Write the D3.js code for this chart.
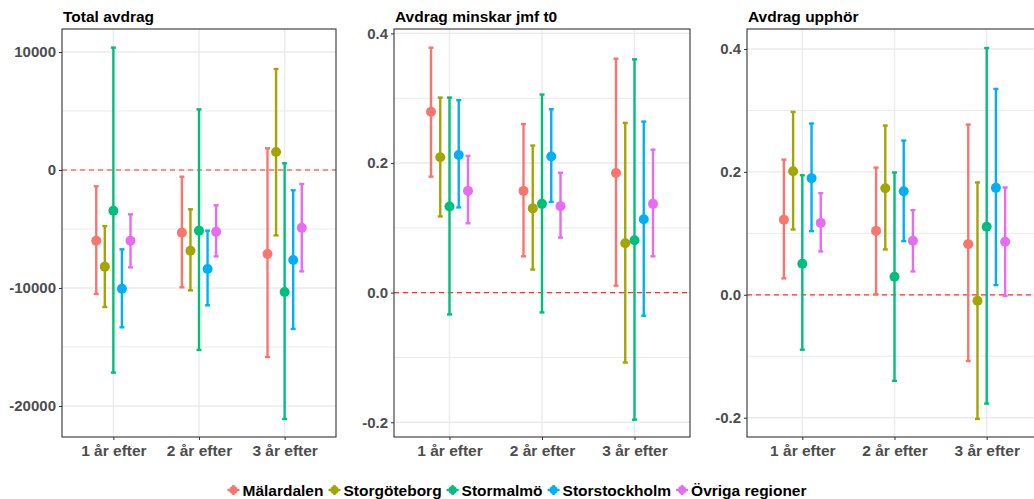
<!DOCTYPE html>
<html>
<head>
<meta charset="utf-8">
<script src="https://cdn.jsdelivr.net/npm/d3@7/dist/d3.min.js"></script>
<style>
  body { margin: 0; background: #fff; }
  svg { display: block; font-family: "Liberation Sans", Arial, sans-serif; }
</style>
</head>
<body>
<svg id="chart" width="1034" height="499"></svg>
<script>
const regions = ["Mälardalen", "Storgöteborg", "Stormalmö", "Storstockholm", "Övriga regioner"];
const colors = ["#F8766D", "#A3A500", "#00BF7D", "#00B0F6", "#E76BF3"];
const years = ["1 år efter", "2 år efter", "3 år efter"];

// rows = regions, columns = years
const totalEst = [[-5990, -5310, -7120], [-8190, -6840, 1530], [-3450, -5140, -10340], [-10060, -8390, -7630], [-5990, -5230, -4890]];
const totalLo = [[-10510, -9940, -15850], [-11610, -10200, -5540], [-17170, -15250, -21100], [-13330, -11470, -13470], [-8250, -7320, -8590]];
const totalHi = [[-1380, -570, 1840], [-4750, -3330, 8560], [10370, 5140, 570], [-6720, -5140, -1720], [-3760, -2990, -1190]];
const totalTicks = [-20000, -10000, 0, 10000];

const minskarEst = [[0.279, 0.157, 0.1845], [0.209, 0.130, 0.0763], [0.133, 0.137, 0.081], [0.2124, 0.210, 0.1134], [0.157, 0.1335, 0.137]];
const minskarLo = [[0.179, 0.056, 0.0108], [0.1176, 0.0356, -0.1078], [-0.0336, -0.0305, -0.196], [0.1315, 0.140, -0.0356], [0.107, 0.085, 0.056]];
const minskarHi = [[0.378, 0.260, 0.361], [0.301, 0.227, 0.262], [0.301, 0.3057, 0.360], [0.297, 0.283, 0.264], [0.211, 0.185, 0.2206]];
const minskarTicks = [-0.2, 0.0, 0.2, 0.4];

const upphorEst = [[0.122, 0.104, 0.0824], [0.201, 0.1735, -0.0098], [0.0504, 0.0293, 0.1106], [0.1898, 0.1686, 0.174], [0.117, 0.0878, 0.0862]];
const upphorLo = [[0.0267, 0.001, -0.1078], [0.1063, 0.0738, -0.202], [-0.0894, -0.140, -0.177], [0.1036, 0.0873, 0.0158], [0.0705, 0.038, -0.002]];
const upphorHi = [[0.220, 0.207, 0.277], [0.2976, 0.2754, 0.1828], [0.1946, 0.199, 0.4016], [0.2787, 0.251, 0.335], [0.1654, 0.1377, 0.1746]];
const upphorTicks = [-0.2, 0.0, 0.2, 0.4];

// ascii hyphen for negatives, like the R output
const hy = (f) => (d) => f(d).replace("\u2212", "-");

const panels = [
  { title: "Total avdrag", est: totalEst, lo: totalLo, hi: totalHi, ticks: totalTicks, domain: [-22627, 11949], x0: 62, x1: 336, fmt: hy(d3.format("d")) },
  { title: "Avdrag minskar jmf t0", est: minskarEst, lo: minskarLo, hi: minskarHi, ticks: minskarTicks, domain: [-0.2227, 0.4068], x0: 394, x1: 690, fmt: hy(d3.format(".1f")) },
  { title: "Avdrag upphör", est: upphorEst, lo: upphorLo, hi: upphorHi, ticks: upphorTicks, domain: [-0.2314, 0.4325], x0: 747, x1: 1042, fmt: hy(d3.format(".1f")) }
];

const svg = d3.select("#chart");
const plotTop = 29, plotBottom = 437;
const gridColor = "#EBEBEB";
const axisText = "#4D4D4D";

panels.forEach((p) => {
  const x = d3.scalePoint().domain(years).range([p.x0, p.x1]).padding(0.6);
  const y = d3.scaleLinear().domain(p.domain).range([plotBottom, plotTop]);
  const dodge = x.step() * 0.1;
  const g = svg.append("g");

  // minor grid
  const half = (p.ticks[1] - p.ticks[0]) / 2;
  const minor = d3.range(p.ticks[0] - half, p.domain[1], half * 2)
    .filter((v) => v > p.domain[0] && v < p.domain[1]);
  g.selectAll(".minor").data(minor).join("line")
    .attr("x1", p.x0).attr("x2", p.x1)
    .attr("y1", (d) => y(d)).attr("y2", (d) => y(d))
    .attr("stroke", gridColor).attr("stroke-width", 1);

  g.selectAll(".hmajor").data(p.ticks).join("line")
    .attr("x1", p.x0).attr("x2", p.x1)
    .attr("y1", (d) => y(d)).attr("y2", (d) => y(d))
    .attr("stroke", gridColor).attr("stroke-width", 1.4);

  g.selectAll(".vmajor").data(years).join("line")
    .attr("x1", (d) => x(d)).attr("x2", (d) => x(d))
    .attr("y1", plotTop).attr("y2", plotBottom)
    .attr("stroke", gridColor).attr("stroke-width", 1.4);

  // zero reference
  g.append("line")
    .attr("x1", p.x0).attr("x2", p.x1)
    .attr("y1", y(0)).attr("y2", y(0))
    .attr("stroke", "#FF3030").attr("stroke-width", 1.2)
    .attr("stroke-dasharray", "5,4");

  // error bars
  regions.forEach((r, ri) => {
    years.forEach((yr, yi) => {
      const cx = x(yr) + dodge * (ri - 2);
      const lo = y(p.lo[ri][yi]), hi = y(p.hi[ri][yi]);
      g.append("line").attr("x1", cx).attr("x2", cx).attr("y1", lo).attr("y2", hi)
        .attr("stroke", colors[ri]).attr("stroke-width", 2.4);
      [lo, hi].forEach((yy) => {
        g.append("line").attr("x1", cx - 2.5).attr("x2", cx + 2.5).attr("y1", yy).attr("y2", yy)
          .attr("stroke", colors[ri]).attr("stroke-width", 2.4);
      });
    });
  });

  // points
  regions.forEach((r, ri) => {
    g.selectAll(null).data(years).join("circle")
      .attr("cx", (d) => x(d) + dodge * (ri - 2))
      .attr("cy", (d, yi) => y(p.est[ri][yi]))
      .attr("r", 5)
      .attr("fill", colors[ri]);
  });

  // panel border
  g.append("rect")
    .attr("x", p.x0).attr("y", plotTop)
    .attr("width", p.x1 - p.x0).attr("height", plotBottom - plotTop)
    .attr("fill", "none").attr("stroke", "#333333").attr("stroke-width", 1.1);

  // y axis
  g.append("g")
    .attr("transform", `translate(${p.x0},0)`)
    .call(d3.axisLeft(y).tickValues(p.ticks).tickFormat(p.fmt).tickSize(3).tickPadding(3))
    .call((sel) => sel.select(".domain").remove())
    .call((sel) => sel.selectAll("line").attr("stroke", "#333333"))
    .call((sel) => sel.selectAll("text").attr("fill", axisText).attr("font-size", 15).attr("font-weight", "bold").attr("font-family", "Liberation Sans, Arial, sans-serif"));

  // x axis
  g.append("g")
    .attr("transform", `translate(0,${plotBottom})`)
    .call(d3.axisBottom(x).tickSize(3).tickPadding(5))
    .call((sel) => sel.select(".domain").remove())
    .call((sel) => sel.selectAll("line").attr("stroke", "#333333"))
    .call((sel) => sel.selectAll("text").attr("fill", axisText).attr("font-size", 15.5).attr("font-weight", "bold").attr("font-family", "Liberation Sans, Arial, sans-serif"));

  svg.append("text")
    .attr("x", p.x0 + 1).attr("y", 22)
    .attr("font-size", 15.5).attr("font-weight", "bold").attr("fill", "#000")
    .text(p.title);
});

// legend
const legend = svg.append("g");
let lx = 0;
regions.forEach((r, i) => {
  const item = legend.append("g").attr("transform", `translate(${lx},0)`);
  item.append("line").attr("x1", 0).attr("x2", 12).attr("y1", 0).attr("y2", 0)
    .attr("stroke", colors[i]).attr("stroke-width", 2.4);
  item.append("line").attr("x1", 6).attr("x2", 6).attr("y1", -5).attr("y2", 5)
    .attr("stroke", colors[i]).attr("stroke-width", 2.4);
  item.append("circle").attr("cx", 6).attr("cy", 0).attr("r", 4).attr("fill", colors[i]);
  const t = item.append("text").attr("x", 15).attr("y", 5.5)
    .attr("font-size", 15.5).attr("font-weight", "bold").attr("fill", "#000").text(r);
  lx += 15 + t.node().getComputedTextLength() + 5;
});
legend.attr("transform", `translate(${517 - (lx - 5) / 2},490)`);
</script>
</body>
</html>
